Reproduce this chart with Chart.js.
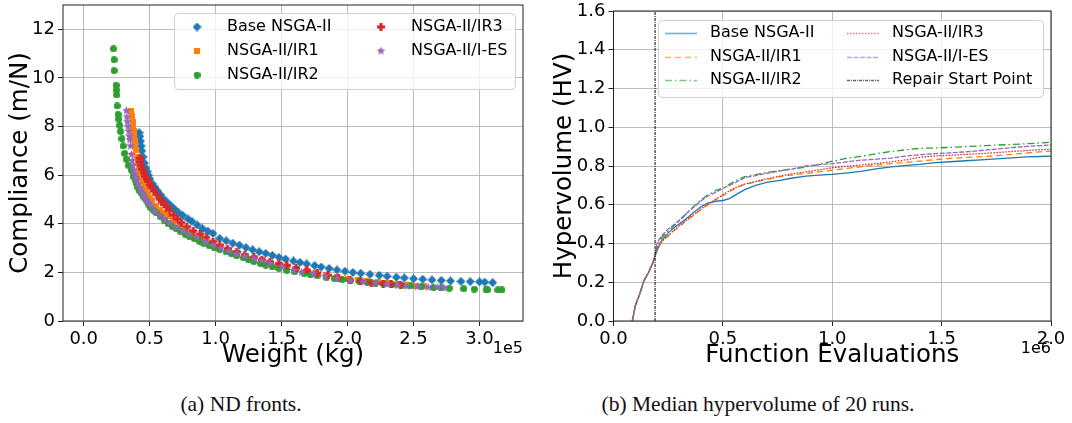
<!DOCTYPE html>
<html>
<head>
<meta charset="utf-8">
<title>ND fronts and hypervolume</title>
<script src="https://cdn.jsdelivr.net/npm/chart.js@4.4.1/dist/chart.umd.min.js"></script>
<style>
  body { margin: 0; background: #fff; }
  #page { position: relative; width: 1072px; height: 423px; overflow: hidden; }
  #frontChart { position: absolute; left: 0; top: 0; }
  #hvChart { position: absolute; left: 540px; top: 0; }
  .caption { position: absolute; top: 392px; font: 21.5px "Liberation Serif", serif; line-height: 24px;
             white-space: nowrap; transform: translateX(-50%); color: #111; }
</style>
</head>
<body>
<div id="page">
  <canvas id="frontChart" width="540" height="375"></canvas>
  <canvas id="hvChart" width="532" height="375"></canvas>
  <div class="caption" style="left:241px">(a) ND fronts.</div>
  <div class="caption" style="left:758px">(b) Median hypervolume of 20 runs.</div>
</div>
<script>
// ---- (a) ND fronts: weight (x 1e5 kg) vs compliance (m/N) ----
const baseW = [0.42,0.425,0.43,0.435,0.44,0.45,0.46,0.47,0.48,0.49,0.50,0.52,0.54,0.56,0.58,0.60,0.63,0.66,0.69,0.72,0.75,0.79,0.82,0.86,0.90,0.94,0.98,1.03,1.08,1.13,1.18,1.23,1.28,1.33,1.38,1.43,1.48,1.53,1.59,1.64,1.69,1.75,1.80,1.86,1.92,1.98,2.04,2.10,2.17,2.24,2.30,2.37,2.43,2.50,2.57,2.64,2.71,2.78,2.86,2.93,3.00,3.04,3.10];
const baseC = [7.75,7.6,7.4,7.2,7.0,6.75,6.5,6.3,6.15,6.0,5.85,5.65,5.5,5.35,5.2,5.05,4.9,4.75,4.6,4.45,4.35,4.2,4.1,3.95,3.8,3.7,3.6,3.4,3.3,3.2,3.12,3.02,2.93,2.85,2.78,2.7,2.62,2.55,2.47,2.41,2.35,2.28,2.22,2.16,2.1,2.05,2.0,1.96,1.92,1.88,1.84,1.8,1.77,1.74,1.72,1.69,1.67,1.65,1.63,1.62,1.61,1.6,1.58];

const ir1W = [0.362,0.366,0.37,0.374,0.378,0.382,0.387,0.392,0.397,0.405,0.412,0.42,0.43,0.438,0.45,0.463,0.475,0.488,0.505,0.52,0.55,0.58,0.61,0.64,0.68,0.73,0.78,0.83,0.88,0.93,0.98,1.03,1.09,1.16,1.22,1.29,1.35,1.41,1.48,1.54,1.61,1.69,1.76,1.84,1.92,2.00,2.08,2.15,2.23,2.30,2.38,2.45,2.52,2.58];
const ir1C = [8.65,8.45,8.2,8.0,7.8,7.6,7.4,7.2,7.05,6.75,6.5,6.25,6.05,5.9,5.7,5.5,5.35,5.2,5.05,4.92,4.75,4.58,4.44,4.3,4.1,3.9,3.72,3.55,3.4,3.27,3.15,3.05,2.92,2.8,2.69,2.58,2.49,2.4,2.31,2.22,2.13,2.04,1.96,1.88,1.81,1.74,1.69,1.64,1.59,1.55,1.51,1.48,1.45,1.43];

const ir2W = [0.225,0.23,0.23,0.245,0.248,0.25,0.253,0.26,0.266,0.273,0.279,0.29,0.298,0.31,0.324,0.34,0.362,0.374,0.39,0.40,0.41,0.425,0.438,0.455,0.476,0.49,0.51,0.53,0.55,0.58,0.61,0.64,0.67,0.70,0.73,0.77,0.80,0.84,0.88,0.91,0.95,0.99,1.03,1.08,1.12,1.16,1.21,1.25,1.29,1.34,1.38,1.43,1.48,1.54,1.60,1.67,1.72,1.77,1.84,1.90,1.96,2.02,2.09,2.15,2.21,2.27,2.34,2.41,2.48,2.56,2.65,2.71,2.77,2.88,2.96,3.05,3.06,3.14,3.17];
const ir2C = [11.2,10.75,10.3,9.7,9.5,9.3,8.85,8.5,8.3,8.05,7.8,7.5,7.2,6.9,6.65,6.4,6.2,5.95,5.8,5.65,5.5,5.35,5.25,5.1,4.95,4.8,4.65,4.55,4.45,4.3,4.15,4.0,3.9,3.8,3.7,3.57,3.48,3.38,3.27,3.19,3.1,3.01,2.94,2.84,2.76,2.68,2.6,2.52,2.45,2.37,2.3,2.23,2.16,2.09,2.03,1.95,1.9,1.86,1.8,1.75,1.71,1.67,1.63,1.59,1.56,1.53,1.5,1.47,1.44,1.41,1.38,1.36,1.35,1.33,1.31,1.29,1.29,1.28,1.28];

const ir3W = [0.425,0.43,0.438,0.445,0.455,0.465,0.476,0.49,0.50,0.514,0.53,0.552,0.577,0.59,0.61,0.628,0.65,0.68,0.71,0.74,0.78,0.83,0.88,0.93,0.98,1.03,1.09,1.16,1.22,1.29,1.35,1.41,1.48,1.54,1.61,1.69,1.77,1.85,1.93,2.02,2.10,2.18,2.27,2.33,2.40];
const ir3C = [6.7,6.55,6.4,6.25,6.1,5.95,5.85,5.75,5.6,5.5,5.35,5.2,5.0,4.9,4.8,4.7,4.55,4.35,4.2,4.05,3.88,3.71,3.57,3.44,3.27,3.12,2.98,2.84,2.72,2.62,2.52,2.43,2.36,2.29,2.18,2.08,1.97,1.88,1.78,1.69,1.63,1.58,1.54,1.52,1.5];

const iesW = [0.324,0.328,0.331,0.336,0.342,0.346,0.35,0.355,0.362,0.368,0.374,0.38,0.387,0.393,0.40,0.412,0.425,0.438,0.45,0.463,0.476,0.49,0.514,0.54,0.577,0.61,0.653,0.70,0.754,0.80,0.856,0.92,0.98,1.04,1.10,1.16,1.22,1.29,1.35,1.41,1.50,1.59,1.65,1.74,1.83,1.92,2.02,2.12,2.21,2.30,2.38,2.45,2.53,2.61,2.68,2.73];
const iesC = [8.65,8.4,8.2,8.0,7.8,7.6,7.45,7.2,6.85,6.6,6.4,6.2,6.05,5.9,5.8,5.65,5.5,5.35,5.22,5.1,4.95,4.85,4.72,4.5,4.33,4.18,4.02,3.85,3.7,3.56,3.43,3.25,3.1,2.98,2.87,2.76,2.66,2.56,2.47,2.37,2.22,2.08,2.01,1.94,1.84,1.74,1.67,1.6,1.55,1.5,1.46,1.43,1.41,1.39,1.38,1.37];

const weightTicks = [0, 0.5, 1.0, 1.5, 2.0, 2.5, 3.0];
const complianceTicks = [0, 2, 4, 6, 8, 10, 12];

// ---- (b) median hypervolume vs function evaluations (x 1e6) ----
const evals = [0.086,0.10,0.12,0.14,0.16,0.18,0.19,0.20,0.22,0.25,0.28,0.30,0.33,0.36,0.40,0.43,0.47,0.50,0.53,0.56,0.60,0.65,0.70,0.76,0.82,0.88,0.94,1.00,1.07,1.13,1.20,1.27,1.34,1.40,1.47,1.54,1.61,1.68,1.75,1.82,1.89,1.95,2.00];
const hvBase = [0,0.08,0.14,0.21,0.25,0.30,0.335,0.365,0.415,0.455,0.485,0.50,0.525,0.555,0.59,0.608,0.618,0.622,0.632,0.652,0.678,0.70,0.716,0.726,0.738,0.748,0.753,0.757,0.765,0.772,0.785,0.795,0.803,0.808,0.817,0.822,0.827,0.832,0.837,0.842,0.847,0.849,0.851];
const hvIR1 = [0,0.08,0.14,0.21,0.25,0.30,0.34,0.376,0.408,0.44,0.47,0.488,0.515,0.54,0.575,0.598,0.628,0.648,0.668,0.687,0.705,0.718,0.73,0.745,0.754,0.762,0.77,0.779,0.788,0.796,0.804,0.812,0.819,0.825,0.833,0.839,0.844,0.848,0.853,0.86,0.867,0.873,0.877];
const hvIR2 = [0,0.08,0.14,0.21,0.25,0.30,0.34,0.39,0.43,0.465,0.495,0.515,0.55,0.585,0.625,0.65,0.675,0.685,0.705,0.725,0.745,0.755,0.767,0.777,0.785,0.795,0.808,0.825,0.84,0.85,0.863,0.875,0.884,0.891,0.893,0.896,0.9,0.904,0.908,0.911,0.915,0.919,0.922];
const hvIR3 = [0,0.08,0.14,0.21,0.25,0.30,0.34,0.378,0.41,0.44,0.472,0.49,0.518,0.543,0.578,0.601,0.63,0.651,0.672,0.69,0.707,0.72,0.734,0.748,0.76,0.77,0.78,0.791,0.799,0.805,0.812,0.822,0.832,0.845,0.852,0.855,0.86,0.864,0.869,0.875,0.88,0.884,0.886];
const hvIES = [0,0.08,0.14,0.21,0.25,0.30,0.34,0.405,0.44,0.475,0.50,0.52,0.552,0.58,0.62,0.644,0.666,0.684,0.70,0.716,0.74,0.75,0.762,0.774,0.785,0.80,0.807,0.812,0.822,0.83,0.835,0.841,0.852,0.858,0.864,0.868,0.873,0.88,0.887,0.895,0.901,0.905,0.908];
const repairX = [0.19, 0.19];
const repairY = [0, 1.6];

const evalTicks = [0, 0.5, 1.0, 1.5, 2.0];
const hvTicks = [0, 0.2, 0.4, 0.6, 0.8, 1.0, 1.2, 1.4, 1.6];

const labels = ['Base NSGA-II', 'NSGA-II/IR1', 'NSGA-II/IR2', 'NSGA-II/IR3', 'NSGA-II/I-ES'];
const colors = ['#1f77b4', '#ff7f0e', '#2ca02c', '#d62728', '#9467bd'];

const FONT = 'DejaVu Sans';
const tickFont = { family: FONT, size: 18 };
const titleFont = { family: FONT, size: 24.5 };

// small filled markers like matplotlib's D, s, o, P, *
function markerCanvas(kind, color, size) {
  const c = document.createElement('canvas');
  c.width = c.height = size;
  const g = c.getContext('2d');
  const m = size / 2;
  g.fillStyle = color;
  g.beginPath();
  if (kind === 'diamond') {
    g.moveTo(m, 0); g.lineTo(size, m); g.lineTo(m, size); g.lineTo(0, m);
  } else if (kind === 'square') {
    g.rect(0, 0, size, size);
  } else if (kind === 'circle') {
    g.arc(m, m, m, 0, Math.PI * 2);
  } else if (kind === 'plus') {
    const a = size * 0.19;
    g.rect(m - a, 0, 2 * a, size);
    g.rect(0, m - a, size, 2 * a);
  } else {
    for (let i = 0; i < 10; i++) {
      const r = i % 2 ? m * 0.45 : m;
      const ang = -Math.PI / 2 + i * Math.PI / 5;
      g.lineTo(m + r * Math.cos(ang), m + r * Math.sin(ang));
    }
  }
  g.closePath();
  g.fill();
  return c;
}

const markers = [
  markerCanvas('diamond', colors[0], 9),
  markerCanvas('square', colors[1], 6),
  markerCanvas('circle', colors[2], 7),
  markerCanvas('plus', colors[3], 8),
  markerCanvas('star', colors[4], 9)
];

const fronts = [[baseW, baseC], [ir1W, ir1C], [ir2W, ir2C], [ir3W, ir3C], [iesW, iesC]];
const hvSeries = [hvBase, hvIR1, hvIR2, hvIR3, hvIES];
const dashes = [[], [6, 4], [7, 3, 1.5, 3], [1.5, 1.5], [5, 1.5]];

// axes frame (all four spines)
const spines = {
  id: 'spines',
  afterDatasetsDraw(chart) {
    const a = chart.chartArea, ctx = chart.ctx;
    ctx.save();
    ctx.strokeStyle = '#222';
    ctx.lineWidth = 1;
    ctx.strokeRect(a.left, a.top, a.right - a.left, a.bottom - a.top);
    ctx.restore();
  }
};

function offsetText(text) {
  return {
    id: 'offsetText',
    afterDraw(chart) {
      const ctx = chart.ctx;
      ctx.save();
      ctx.font = '16px "' + FONT + '"';
      ctx.fillStyle = '#000';
      ctx.textAlign = 'right';
      ctx.textBaseline = 'middle';
      ctx.fillText(text, chart.chartArea.right, 349);
      ctx.restore();
    }
  };
}

// matplotlib-style legend: two columns, filled column by column
function makeLegend(spec) {
  return {
    id: 'insetLegend',
    afterDraw(chart) {
      const ctx = chart.ctx, b = spec.box;
      ctx.save();
      ctx.beginPath();
      ctx.roundRect(b.x + 0.5, b.y + 0.5, b.w, b.h, 4);
      ctx.fillStyle = 'rgba(255,255,255,0.8)';
      ctx.fill();
      ctx.strokeStyle = '#d0d0d0';
      ctx.lineWidth = 1;
      ctx.stroke();
      ctx.font = '16px "' + FONT + '"';
      ctx.textBaseline = 'middle';
      spec.items.forEach((it, i) => {
        const col = Math.floor(i / spec.rows.length);
        const x = spec.cols[col], y = spec.rows[i % spec.rows.length];
        spec.symbol(ctx, it, x, y);
        ctx.fillStyle = '#000';
        ctx.fillText(it.label, x + spec.textGap, y);
      });
      ctx.restore();
    }
  };
}

function fixedTicks(values) {
  return axis => { axis.ticks = values.map(v => ({ value: v })); };
}

function baseScale(ticks, fmt, title, fit) {
  return {
    type: 'linear',
    afterBuildTicks: fixedTicks(ticks),
    afterFit: fit,
    border: { display: false },
    grid: { color: 'rgba(176,176,176,0.85)', lineWidth: 1, tickLength: 5, tickColor: '#222' },
    ticks: { font: tickFont, color: '#000', padding: 3, autoSkip: false, maxRotation: 0, callback: fmt },
    title: { display: true, text: title, font: titleFont, color: '#000', padding: { top: 4, bottom: 5 } }
  };
}

// ---- chart (a) ----
const frontX = baseScale(weightTicks, v => v.toFixed(1), 'Weight (kg)',
  s => { s.height = 54; s.paddingLeft = 0; s.paddingRight = 0; });
frontX.min = -0.157; frontX.max = 3.33;
const frontY = baseScale(complianceTicks, v => String(v), 'Compliance (m/N)',
  s => { s.width = 61; s.paddingTop = 0; s.paddingBottom = 0; });
frontY.min = 0; frontY.max = 13;

new Chart(document.getElementById('frontChart'), {
  type: 'scatter',
  data: {
    datasets: fronts.map(([w, c], i) => ({
      label: labels[i],
      data: w.map((v, j) => ({ x: v, y: c[j] })),
      pointStyle: markers[i],
      pointRadius: 4,
      order: 5 - i
    }))
  },
  options: {
    responsive: false,
    animation: false,
    events: [],
    layout: { padding: { left: 2, right: 17, top: 5, bottom: 0 } },
    plugins: { legend: { display: false }, tooltip: { enabled: false } },
    scales: { x: frontX, y: frontY }
  },
  plugins: [spines, offsetText('1e5'), makeLegend({
    box: { x: 174, y: 13, w: 341, h: 76 },
    rows: [27, 51, 75],
    cols: [197, 381],
    textGap: 30,
    items: labels.map((l, i) => ({ label: l, marker: markers[i] })),
    symbol: (ctx, it, x, y) => ctx.drawImage(it.marker, x - it.marker.width / 2, y - it.marker.height / 2)
  })]
});

// ---- chart (b) ----
const hvX = baseScale(evalTicks, v => v.toFixed(1), 'Function Evaluations',
  s => { s.height = 54; s.paddingLeft = 0; s.paddingRight = 0; });
hvX.min = 0; hvX.max = 2.0;
const hvY = baseScale(hvTicks, v => v.toFixed(1), 'Hypervolume (HV)',
  s => { s.width = 67.5; s.paddingTop = 0; s.paddingBottom = 0; });
hvY.min = 0; hvY.max = 1.6;

const hvDatasets = hvSeries.map((ys, i) => ({
  label: labels[i],
  data: evals.map((x, j) => ({ x: x, y: ys[j] })),
  borderColor: colors[i],
  borderWidth: 1.3,
  borderDash: dashes[i],
  pointRadius: 0,
  tension: 0,
  order: 5 - i
}));
hvDatasets.push({
  label: 'Repair Start Point',
  data: repairX.map((x, j) => ({ x: x, y: repairY[j] })),
  borderColor: '#000',
  borderWidth: 1,
  borderDash: [3, 1, 1, 1],
  pointRadius: 0,
  order: 0
});

new Chart(document.getElementById('hvChart'), {
  type: 'line',
  data: { datasets: hvDatasets },
  options: {
    responsive: false,
    animation: false,
    events: [],
    layout: { padding: { left: 6, right: 21, top: 11, bottom: 0 } },
    plugins: { legend: { display: false }, tooltip: { enabled: false } },
    scales: { x: hvX, y: hvY }
  },
  plugins: [spines, offsetText('1e6'), makeLegend({
    box: { x: 118, y: 20, w: 385, h: 77 },
    rows: [33, 57, 80],
    cols: [125, 307],
    textGap: 45,
    items: hvDatasets.map(d => ({ label: d.label, color: d.borderColor, dash: d.borderDash, width: d.borderWidth })),
    symbol: (ctx, it, x, y) => {
      ctx.save();
      ctx.strokeStyle = it.color;
      ctx.globalAlpha = 0.6;
      ctx.lineWidth = it.width + 0.3;
      ctx.setLineDash(it.dash);
      ctx.beginPath();
      ctx.moveTo(x, y + 0.5);
      ctx.lineTo(x + 32, y + 0.5);
      ctx.stroke();
      ctx.restore();
    }
  })]
});
</script>
</body>
</html>
